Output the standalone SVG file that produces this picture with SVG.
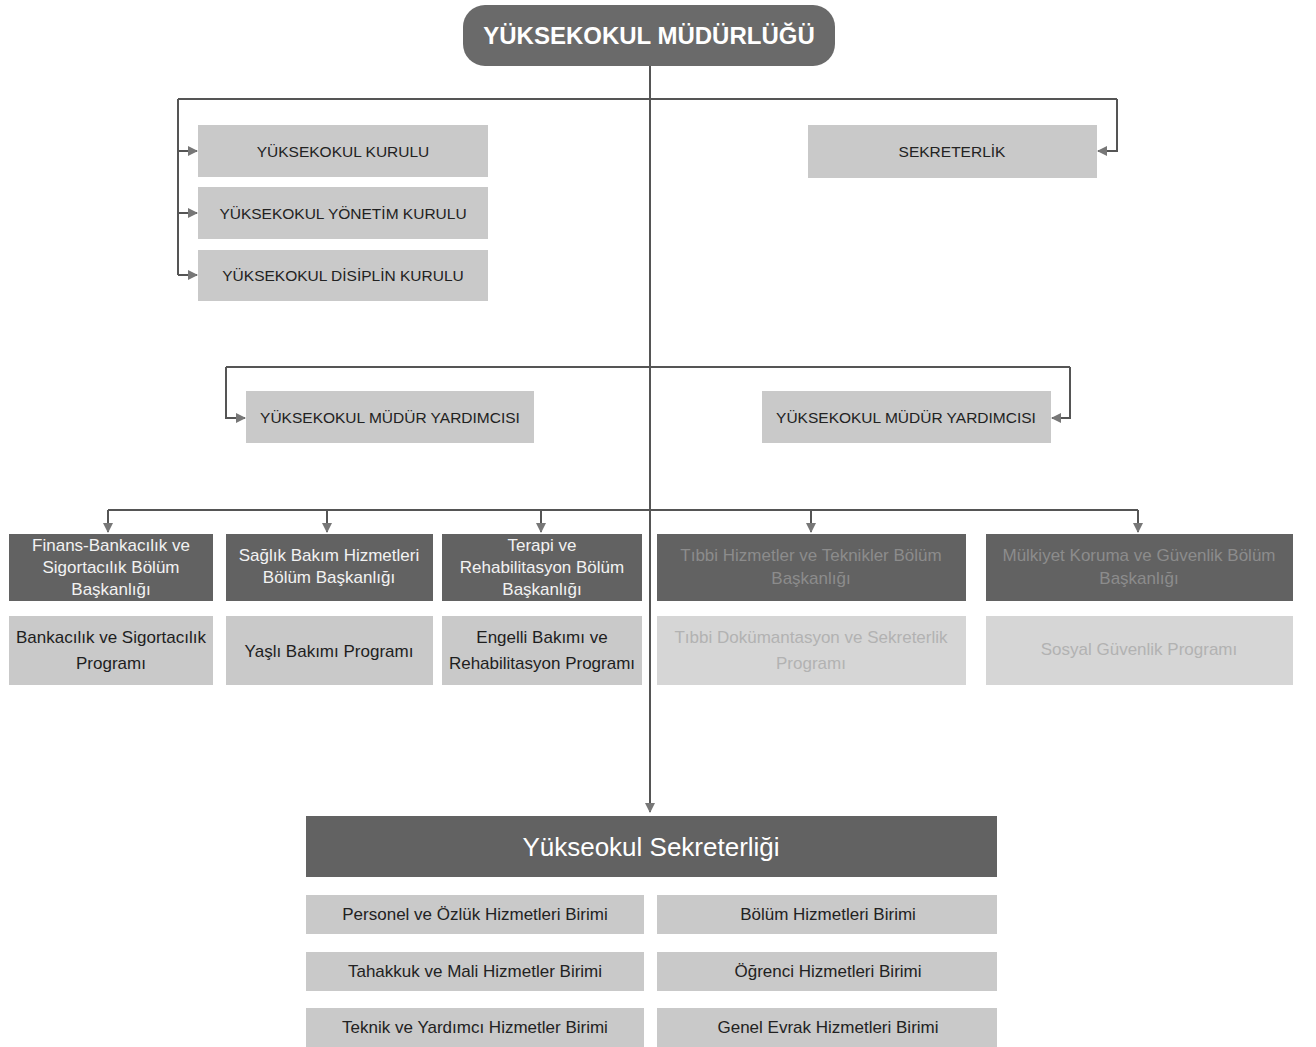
<svg xmlns="http://www.w3.org/2000/svg" width="1316" height="1047" viewBox="0 0 1316 1047">
<style>
text{font-family:"Liberation Sans",Arial,sans-serif;text-anchor:middle;dominant-baseline:central}
.lt{fill:#c9c9c9}
.lt2{fill:#d6d6d6}
.dk{fill:#626262}
.t1{font-size:15.5px;fill:#222}
.t2{font-size:17px;fill:#f2f2f2}
.t2f{font-size:17px;fill:#8c8c8c}
.t3{font-size:17px;fill:#1e1e1e}
.t3f{font-size:17px;fill:#b2b2b2}
.t4{font-size:17px;fill:#222}
.ln{fill:none;stroke:#555;stroke-width:2}
</style>
<defs>
<marker id="ah" viewBox="0 0 10 10" refX="9" refY="5" markerWidth="5" markerHeight="5" orient="auto" markerUnits="strokeWidth">
<path d="M0,0 L10,5 L0,10 z" fill="#777"/>
</marker>
</defs>
<rect width="1316" height="1047" fill="#fff"/>
<g id="connectors">
<path class="ln" d="M650,66 V812" marker-end="url(#ah)"/>
<path class="ln" d="M178,99 H1117"/>
<path class="ln" d="M178,99 V275"/>
<path class="ln" d="M178,151 H197" marker-end="url(#ah)"/>
<path class="ln" d="M178,213 H197" marker-end="url(#ah)"/>
<path class="ln" d="M178,275 H197" marker-end="url(#ah)"/>
<path class="ln" d="M1117,99 V151 H1098" marker-end="url(#ah)"/>
<path class="ln" d="M226,367 H1070"/>
<path class="ln" d="M226,367 V418 H245" marker-end="url(#ah)"/>
<path class="ln" d="M1070,367 V418 H1052" marker-end="url(#ah)"/>
<path class="ln" d="M108,510 H1138"/>
<path class="ln" d="M108,510 V532" marker-end="url(#ah)"/>
<path class="ln" d="M327,510 V532" marker-end="url(#ah)"/>
<path class="ln" d="M541,510 V532" marker-end="url(#ah)"/>
<path class="ln" d="M811,510 V532" marker-end="url(#ah)"/>
<path class="ln" d="M1138,510 V532" marker-end="url(#ah)"/>
</g>
<g id="mudurluk">
<rect x="463" y="5" width="372" height="61" rx="22" fill="#6a6a6a"/>
<text x="649" y="35" style="font-size:24px;font-weight:bold;fill:#fff">YÜKSEKOKUL MÜDÜRLÜĞÜ</text>
</g>
<g id="kurul"><rect class="lt" x="198" y="125" width="290" height="52"/><text class="t1" x="343" y="151">YÜKSEKOKUL KURULU</text></g>
<g id="yonetim"><rect class="lt" x="198" y="187" width="290" height="52"/><text class="t1" x="343" y="213">YÜKSEKOKUL YÖNETİM KURULU</text></g>
<g id="disiplin"><rect class="lt" x="198" y="250" width="290" height="51"/><text class="t1" x="343" y="275">YÜKSEKOKUL DİSİPLİN KURULU</text></g>
<g id="sekreterlik"><rect class="lt" x="808" y="125" width="289" height="53"/><text class="t1" x="952" y="151">SEKRETERLİK</text></g>
<g id="yardimci1"><rect class="lt" x="246" y="391" width="288" height="52"/><text class="t1" x="390" y="417">YÜKSEKOKUL MÜDÜR YARDIMCISI</text></g>
<g id="yardimci2"><rect class="lt" x="762" y="391" width="289" height="52"/><text class="t1" x="906" y="417">YÜKSEKOKUL MÜDÜR YARDIMCISI</text></g>
<g id="bolum1"><rect class="dk" x="9" y="534" width="204" height="67"/>
<text class="t2" x="111" y="545">Finans-Bankacılık ve</text><text class="t2" x="111" y="567">Sigortacılık Bölüm</text><text class="t2" x="111" y="589">Başkanlığı</text></g>
<g id="bolum2"><rect class="dk" x="226" y="534" width="207" height="67"/>
<text class="t2" x="329" y="555">Sağlık Bakım Hizmetleri</text><text class="t2" x="329" y="577">Bölüm Başkanlığı</text></g>
<g id="bolum3"><rect class="dk" x="442" y="534" width="200" height="67"/>
<text class="t2" x="542" y="545">Terapi ve</text><text class="t2" x="542" y="567">Rehabilitasyon Bölüm</text><text class="t2" x="542" y="589">Başkanlığı</text></g>
<g id="bolum4"><rect class="dk" x="657" y="534" width="309" height="67"/>
<text class="t2f" x="811" y="555">Tıbbi Hizmetler ve Teknikler Bölüm</text><text class="t2f" x="811" y="578">Başkanlığı</text></g>
<g id="bolum5"><rect class="dk" x="986" y="534" width="307" height="67"/>
<text class="t2f" x="1139" y="555">Mülkiyet Koruma ve Güvenlik Bölüm</text><text class="t2f" x="1139" y="578">Başkanlığı</text></g>
<g id="program1"><rect class="lt" x="9" y="616" width="204" height="69"/>
<text class="t3" x="111" y="637">Bankacılık ve Sigortacılık</text><text class="t3" x="111" y="663">Programı</text></g>
<g id="program2"><rect class="lt" x="226" y="616" width="207" height="69"/>
<text class="t3" x="329" y="651">Yaşlı Bakımı Programı</text></g>
<g id="program3"><rect class="lt" x="442" y="616" width="200" height="69"/>
<text class="t3" x="542" y="637">Engelli Bakımı ve</text><text class="t3" x="542" y="663">Rehabilitasyon Programı</text></g>
<g id="program4"><rect class="lt2" x="657" y="616" width="309" height="69"/>
<text class="t3f" x="811" y="637">Tıbbi Dokümantasyon ve Sekreterlik</text><text class="t3f" x="811" y="663">Programı</text></g>
<g id="program5"><rect class="lt2" x="986" y="616" width="307" height="69"/>
<text class="t3f" x="1139" y="649">Sosyal Güvenlik Programı</text></g>
<g id="yuksekokul-sekreterligi"><rect class="dk" x="306" y="816" width="691" height="61"/>
<text x="651" y="847" style="font-size:26px;fill:#fff">Yükseokul Sekreterliği</text></g>
<g id="birim1"><rect class="lt" x="306" y="895" width="338" height="39"/><text class="t4" x="475" y="914">Personel ve Özlük Hizmetleri Birimi</text></g>
<g id="birim2"><rect class="lt" x="657" y="895" width="340" height="39"/><text class="t4" x="828" y="914">Bölüm Hizmetleri Birimi</text></g>
<g id="birim3"><rect class="lt" x="306" y="952" width="338" height="39"/><text class="t4" x="475" y="971">Tahakkuk ve Mali Hizmetler Birimi</text></g>
<g id="birim4"><rect class="lt" x="657" y="952" width="340" height="39"/><text class="t4" x="828" y="971">Öğrenci Hizmetleri Birimi</text></g>
<g id="birim5"><rect class="lt" x="306" y="1008" width="338" height="39"/><text class="t4" x="475" y="1027">Teknik ve Yardımcı Hizmetler Birimi</text></g>
<g id="birim6"><rect class="lt" x="657" y="1008" width="340" height="39"/><text class="t4" x="828" y="1027">Genel Evrak Hizmetleri Birimi</text></g>
</svg>
